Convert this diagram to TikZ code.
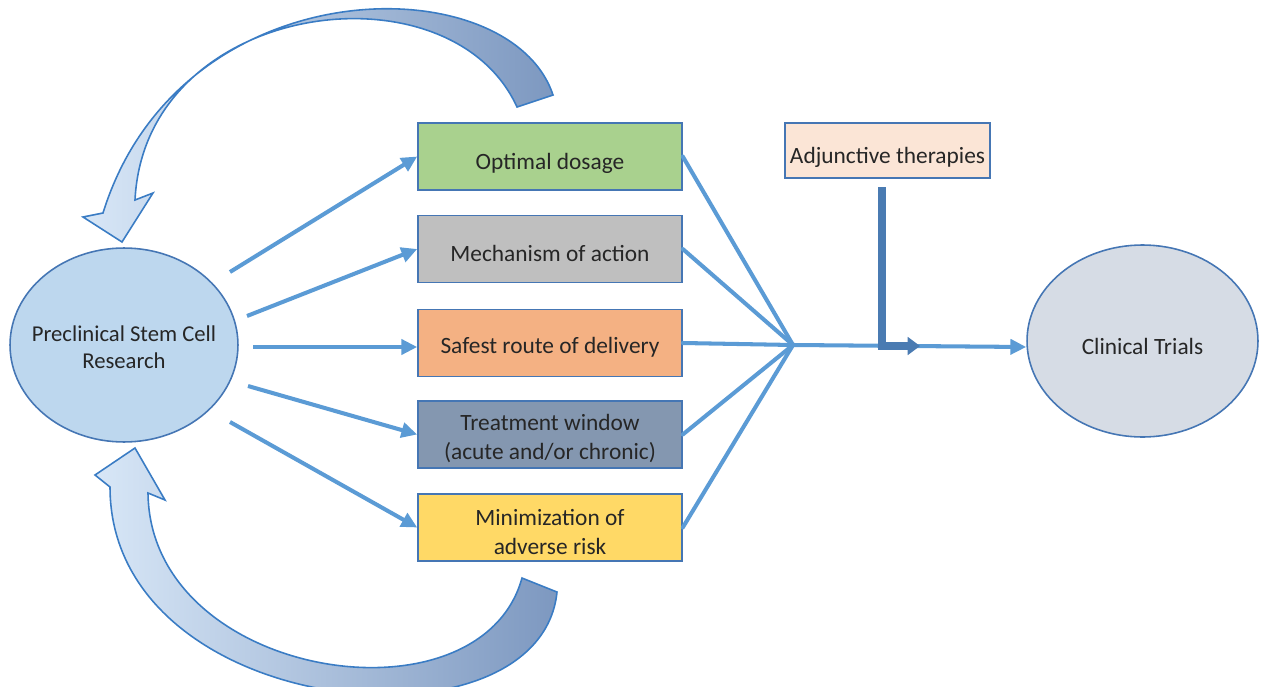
\documentclass[tikz,border=0pt]{standalone}
\usepackage{fontspec}
\setmainfont{Carlito}
\usetikzlibrary{arrows.meta,shapes.geometric}
\definecolor{lineblue}{HTML}{5B9BD5}
\definecolor{adjblue}{HTML}{4A7BB2}
\definecolor{edgeblue}{HTML}{4576B4}
\definecolor{curveedge}{HTML}{3A7CC4}
\definecolor{curvelight}{HTML}{D8E7F7}
\definecolor{curvedark}{HTML}{7D98C0}
\definecolor{greenbox}{HTML}{A9D18E}
\definecolor{graybox}{HTML}{BFBFBF}
\definecolor{orangebox}{HTML}{F4B183}
\definecolor{slatebox}{HTML}{8497B0}
\definecolor{yellowbox}{HTML}{FFD966}
\definecolor{peachbox}{HTML}{FBE5D6}
\definecolor{leftell}{HTML}{BDD7EE}
\definecolor{rightell}{HTML}{D6DCE5}
\definecolor{txt}{HTML}{262626}
\tikzset{
  boxtxt/.style={font=\fontsize{13.3}{16.4}\selectfont, align=center, text=txt, yshift=-2.4pt, inner sep=0pt},
  stepbox/.style={draw=edgeblue, line width=0.9pt, minimum width=5.28cm, minimum height=1.34cm, inner sep=0pt},
  bigell/.style={ellipse, draw=edgeblue, line width=0.9pt, inner sep=0pt},
  flow/.style={draw=lineblue, line width=2.3pt, -{Triangle[length=9pt,width=8.5pt]}},
  joinline/.style={draw=lineblue, line width=2.3pt, line cap=round},
  curvearrow/.style={draw=curveedge, line width=0.9pt, left color=curvelight, right color=curvedark, line join=miter}
}
\begin{document}
\begin{tikzpicture}[x=0.02cm, y=-0.02cm]
\useasboundingbox (0,0) rectangle (1267,686);

% curved feedback arrows
\path[curvearrow] (553,95) .. controls (510,-35) and (180,-35) .. (103,213)
  -- (83,217) -- (122,242) -- (153,193) -- (135,200)
  .. controls (145,0) and (450,-40) .. (517,107) -- cycle;
\path[curvearrow] (557,592) .. controls (540,760) and (110,720) .. (110,487)
  -- (95,475) -- (135,448) -- (165,500) -- (148,493)
  .. controls (150,680) and (480,730) .. (522,578) -- cycle;

% nodes
\node[bigell, fill=leftell, minimum width=4.56cm, minimum height=3.88cm,
  label={[boxtxt, yshift=1.1pt, font=\fontsize{12.9}{15.4}\selectfont]center:Preclinical Stem Cell\\Research}] (pre) at (124,345) {};
\node[bigell, fill=rightell, minimum width=4.62cm, minimum height=3.84cm,
  label={[boxtxt, yshift=-0.5pt]center:Clinical Trials}] (clin) at (1142.5,341) {};

\node[stepbox, fill=greenbox,  label={[boxtxt, yshift=-1.8pt]center:Optimal dosage}] (b1) at (550,156.5) {};
\node[stepbox, fill=graybox,   label={[boxtxt]center:Mechanism of action}] (b2) at (550,249) {};
\node[stepbox, fill=orangebox, label={[boxtxt]center:Safest route of delivery}] (b3) at (550,343) {};
\node[stepbox, fill=slatebox,  label={[boxtxt]center:Treatment window\\(acute and/or chronic)}] (b4) at (550,434.5) {};
\node[stepbox, fill=yellowbox, label={[boxtxt]center:Minimization of\\adverse risk}] (b5) at (550,527.5) {};

\node[stepbox, fill=peachbox, minimum width=4.1cm, minimum height=1.1cm,
  label={[boxtxt, yshift=-1.7pt]center:Adjunctive therapies}] (adj) at (887.5,150.5) {};

% coordinates
\coordinate (s1) at (230,272);
\coordinate (s2) at (247,316);
\coordinate (s3) at (253,347);
\coordinate (s4) at (248,386);
\coordinate (s5) at (230,422);
\coordinate (conv) at (793,345);
\coordinate (adjtop) at (882,187);
\coordinate (adjend) at (920,346);

% arrows from research
\draw[flow] (s1) -- (b1.west);
\draw[flow] (s2) -- (b2.west);
\draw[flow] (s3) -- (b3.west |- s3);
\draw[flow] (s4) -- (b4.west);
\draw[flow] (s5) -- (b5.west);

% converging lines
\draw[joinline] (b1.east) -- (conv);
\draw[joinline] (b2.east) -- (conv);
\draw[joinline] (b3.east) -- (conv);
\draw[joinline] (b4.east) -- (conv);
\draw[joinline] (b5.east) -- (conv);
\draw[flow] (conv) -- (clin.west |- 0,347);

% adjunctive therapies arrow
\draw[draw=adjblue, line width=4.5pt, -{Triangle[length=7pt,width=10pt]}] (adjtop) |- (adjend);
\end{tikzpicture}
\end{document}
